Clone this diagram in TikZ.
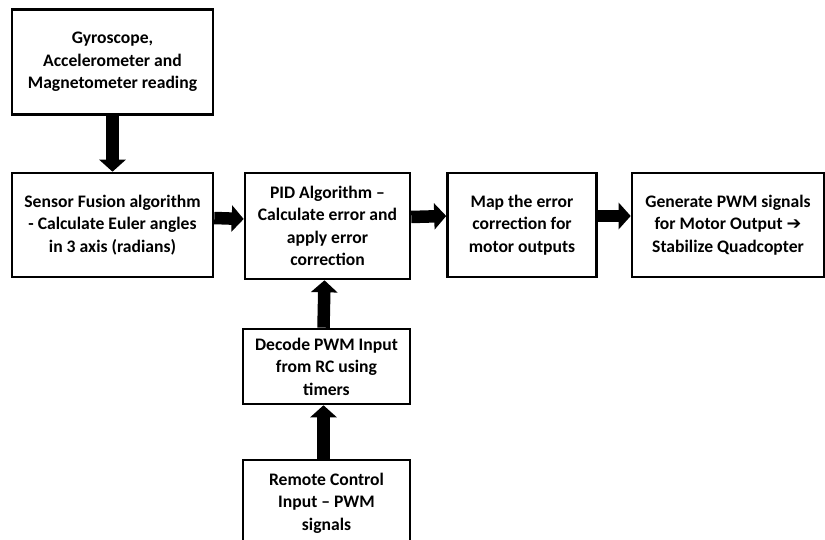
\documentclass[tikz,border=0pt]{standalone}
\usepackage{fontspec}
\setmainfont{Carlito}
\newfontfamily\symfnt{DejaVu Sans}
\usetikzlibrary{arrows.meta}
\begin{document}
\begin{tikzpicture}[x=1pt,y=-1pt,
  box/.style={draw=black, line width=2.6pt, rectangle, inner sep=0pt, align=center,
    font=\bfseries\fontsize{17.6}{22.5}\selectfont, fill=white},
  arr/.style={line width=12.5pt, -{Triangle[length=12pt,width=26pt]}}]
\useasboundingbox (0,0) rectangle (825,540);
\node[box, minimum width=201pt, minimum height=105pt] (top) at (112.5,62)
  {Gyroscope,\\Accelerometer and\\Magnetometer reading};
\node[box, minimum width=201pt, minimum height=104pt] (sensor) at (112.5,225)
  {Sensor Fusion algorithm\\- Calculate Euler angles\\in 3 axis (radians)};
\node[box, minimum width=165pt, minimum height=106pt] (pid) at (327.5,226)
  {PID Algorithm --\\Calculate error and\\apply error\\correction};
\node[box, minimum width=149pt, minimum height=104pt] (map) at (522,225)
  {Map the error\\correction for\\motor outputs};
\node[box, minimum width=192pt, minimum height=104pt] (gen) at (728,225)
  {Generate PWM signals\\for Motor Output {\symfnt ➔}\\Stabilize Quadcopter};
\node[box, minimum width=167pt, minimum height=75pt] (decode) at (326.5,366.5)
  {Decode PWM Input\\from RC using\\timers};
\node[box, minimum width=167pt, minimum height=86pt] (remote) at (326.5,503)
  {Remote Control\\Input -- PWM\\signals};
\draw[arr] (top) -- (sensor);
\draw[arr] ([yshift=7pt]sensor.east) -- ([yshift=7pt]pid.west);
\draw[arr] ([yshift=9pt]pid.east) -- ([yshift=9pt]map.west);
\draw[arr] ([yshift=9pt]map.east) -- ([yshift=9pt]gen.west);
\draw[arr] ([xshift=-3pt]decode.north) -- ([xshift=-3pt]pid.south);
\draw[arr] ([xshift=-3pt]remote.north) -- ([xshift=-3pt]decode.south);
\end{tikzpicture}
\end{document}
